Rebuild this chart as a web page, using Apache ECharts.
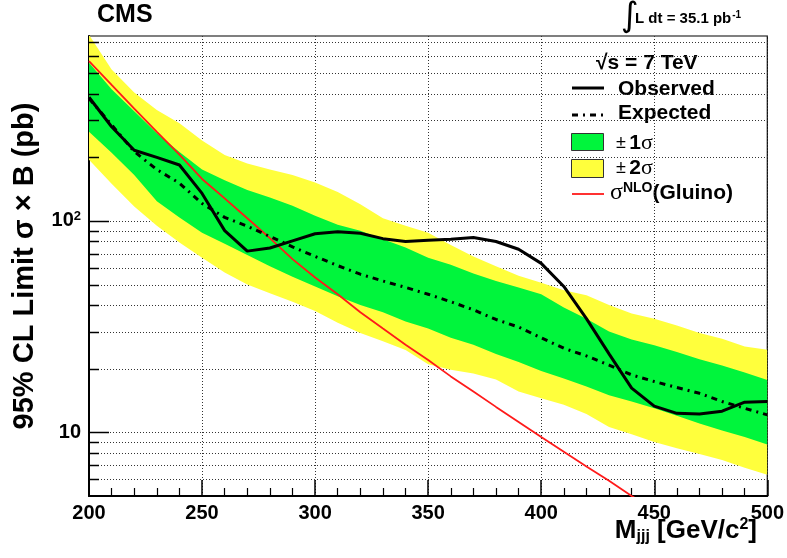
<!DOCTYPE html>
<html><head><meta charset="utf-8">
<script src="https://cdn.jsdelivr.net/npm/echarts@6/dist/echarts.min.js"></script>
<style>html,body{margin:0;padding:0;background:#fff}#c{width:787px;height:558px}</style>
</head><body><div id="c"></div>
<script>
// ---- data ----
const masses = [200,210,220,230,240,250,260,270,280,290,300,310,320,330,340,350,360,370,380,390,400,410,420,430,440,450,460,470,480,490,500];
const observed = [385,279,216,200,184,135,90,72,74.5,80.5,87,89,87.5,82.5,80,81,82,83.5,80,73.5,63,49,34.5,23.5,16.2,13.3,12.3,12.2,12.6,13.9,14];
const expected = [380,285,213,175,151,121,104,94.5,84.5,75.5,68,61.5,56,52,48.5,45,41.5,38,34.2,31.5,28,25,23,20.8,18.7,17.4,16.3,15.3,14,13,12.1];
const band1Up = [560,420,330,260,212,175,156,140,129,118,106,96,90,82,75,67,62,56.5,52,48.5,45,39,34.5,30,27.5,25.8,24,22.2,20.7,19.2,17.7];
const band1Down = [264,210,165,124,104,88,78,69,61,54.5,49,44,40,37,33.5,31,28,26,23.5,21.5,19.5,18,16.5,15,14,13,12,11,10.2,9.5,8.75];
const band2Up = [760,520,405,335,290,240,205,187,175,165,152,137,120,103,95,88,77,68,61,55,51,47,44.5,40,36.5,34.5,32,29.5,27.7,25.5,24.6];
const band2Down = [195,150,117,95,79,67,57,50,45.5,41.5,37.5,33,29.5,27,24.5,21,19.8,19,17.8,15.6,14.5,13.5,12.2,10.6,9.8,9.0,8.4,7.9,7.4,6.8,6.3];
const gluinoMass = [200,210,220,230,240,250,260,270,280,290,300,310,320,330,340,350,360,370,380,390,400,410,420,430,440,450];
const gluinoXsec = [570,440,340,264,206,158,128,103,83,66,54,45,37,31,26,22,18.4,15.6,13.2,11.2,9.5,8.1,6.9,5.9,5.0,4.3];
const xMin = 200, xMax = 500, xStep = 50;
const yMin = 5, yMax = 750;
const yGridValues = [6,7,8,9,10,20,30,40,50,60,70,80,90,100,200,300,400,500,600,700];
const yMajorValues = [10,100];

const FONT = '"Liberation Sans", Arial, Helvetica, sans-serif';
const GREEN = '#00f53c', YELLOW = '#ffff3c';

function pairs(xs, ys){ return xs.map((x,i)=>[x, ys[i]]); }

function clipGroup(params, children){
  const c = params.coordSys;
  return {type:'group', children, clipPath:{type:'rect', shape:{x:c.x, y:c.y, width:c.width, height:c.height}}};
}

function bandSeries(up, down, color, z){
  return {
    type:'custom', z, silent:true, data:[[masses[0], up[0]]],
    renderItem(params, api){
      const pts = [];
      for (let i=0;i<masses.length;i++) pts.push(api.coord([masses[i], up[i]]));
      for (let i=masses.length-1;i>=0;i--) pts.push(api.coord([masses[i], down[i]]));
      return clipGroup(params, [{type:'polygon', shape:{points:pts}, style:{fill:color, stroke:null}}]);
    }
  };
}

const gridSeries = {
  type:'custom', z:1, silent:true, data:[[xMin, 10]],
  renderItem(params, api){
    const children = yGridValues.map(v=>{
      const a = api.coord([xMin, v]), b = api.coord([xMax, v]);
      return {type:'line', shape:{x1:a[0], y1:Math.round(a[1])+0.5, x2:b[0], y2:Math.round(b[1])+0.5},
        style:{stroke:'#333', lineWidth:1, lineDash:[1,2]}};
    });
    return {type:'group', children};
  }
};

const tickSeries = {
  type:'custom', z:10, silent:true, data:[[xMin, 10]],
  renderItem(params, api){
    const children = yGridValues.map(v=>{
      const a = api.coord([xMin, v]);
      const len = yMajorValues.includes(v) ? 20 : 10;
      const y = Math.round(a[1])+0.5;
      return {type:'line', shape:{x1:a[0], y1:y, x2:a[0]+len, y2:y}, style:{stroke:'#000', lineWidth:1.5}};
    });
    return {type:'group', children};
  }
};

const chart = echarts.init(document.getElementById('c'), null, {renderer:'canvas'});
chart.setOption({
  backgroundColor:'#fff',
  animation:false,
  grid:{left:89, right:18, top:36, bottom:62, show:true, borderColor:'#000', borderWidth:1.2, backgroundColor:'transparent'},
  xAxis:{
    type:'value', min:xMin, max:xMax, interval:xStep,
    axisLine:{show:true, onZero:false, lineStyle:{color:'#000', width:2}},
    axisTick:{show:true, inside:true, length:16, lineStyle:{color:'#000', width:1.5}},
    minorTick:{show:true, splitNumber:5, length:8, lineStyle:{color:'#000', width:1.2}},
    splitLine:{show:true, lineStyle:{color:'#333', width:1, type:[1,2]}},
    axisLabel:{color:'#000', fontSize:20, fontWeight:'bold', fontFamily:FONT, margin:7}
  },
  yAxis:{
    type:'log', logBase:10, min:yMin, max:yMax,
    axisLine:{show:true, lineStyle:{color:'#000', width:2}},
    axisTick:{show:false},
    splitLine:{show:false},
    axisLabel:{
      color:'#000', margin:8, showMinLabel:false, showMaxLabel:false,
      formatter:(v)=>{
        const e = Math.log10(v);
        if (Math.abs(e-Math.round(e))>1e-6) return '';
        const r = Math.round(e);
        if (r===1) return '{a|10}';
        if (r===2) return '{a|10}{s|2}';
        return '';
      },
      rich:{a:{fontSize:20, fontWeight:'bold', fontFamily:FONT, color:'#000'},
            s:{fontSize:13, fontWeight:'bold', fontFamily:FONT, color:'#000', verticalAlign:'top', padding:[0,0,10,0]}}
    }
  },
  series:[
    gridSeries,
    bandSeries(band2Up, band2Down, YELLOW, 2),
    bandSeries(band1Up, band1Down, GREEN, 3),
    {type:'line', z:4, data:pairs(gluinoMass, gluinoXsec), symbol:'none', smooth:false, clip:true,
      lineStyle:{color:'#ff1a1a', width:1.8}},
    {type:'line', z:5, data:pairs(masses, expected), symbol:'none', clip:true,
      lineStyle:{color:'#000', width:3, type:[6,5,2,5]}},
    {type:'line', z:6, data:pairs(masses, observed), symbol:'none', clip:true,
      lineStyle:{color:'#000', width:3}},
    tickSeries
  ],
  graphic:[
    {type:'text', x:97, y:15, style:{text:'CMS', font:'bold 25px '+FONT, fill:'#000', verticalAlign:'middle'}},
    {type:'text', x:621, y:17, style:{text:'∫', font:'34px "DejaVu Sans"', fill:'#000', verticalAlign:'middle'}},
    {type:'text', x:635, y:19, style:{text:'{t|L dt = 35.1 pb}{s|-1}', fill:'#000', verticalAlign:'middle',
      rich:{t:{font:'bold 15px '+FONT, fill:'#000'}, s:{font:'bold 10px '+FONT, fill:'#000', verticalAlign:'top', padding:[0,0,8,1]}}}},
    // legend
    {type:'text', x:596, y:63, style:{text:'√s = 7 TeV', font:'bold 21px '+FONT, fill:'#000', verticalAlign:'middle'}},
    {type:'line', shape:{x1:572, y1:88, x2:604, y2:88}, style:{stroke:'#000', lineWidth:3}},
    {type:'text', x:618, y:89, style:{text:'Observed', font:'bold 21px '+FONT, fill:'#000', verticalAlign:'middle'}},
    {type:'line', shape:{x1:572, y1:115, x2:604, y2:115}, style:{stroke:'#000', lineWidth:3, lineDash:[6,5,2,5]}},
    {type:'text', x:618, y:113, style:{text:'Expected', font:'bold 21px '+FONT, fill:'#000', verticalAlign:'middle'}},
    {type:'rect', shape:{x:571.5, y:133.5, width:32, height:17}, style:{fill:GREEN, stroke:'#333', lineWidth:1}},
    {type:'text', x:616, y:143, style:{text:'{p|±} {n|1}{g|σ}', verticalAlign:'middle',
      rich:{p:{font:'18px '+FONT, fill:'#000'}, n:{font:'bold 21px '+FONT, fill:'#000'}, g:{font:'22px "Liberation Serif"', fill:'#000'}}}},
    {type:'rect', shape:{x:571.5, y:159.5, width:32, height:18}, style:{fill:YELLOW, stroke:'#333', lineWidth:1}},
    {type:'text', x:616, y:168, style:{text:'{p|±} {n|2}{g|σ}', verticalAlign:'middle',
      rich:{p:{font:'18px '+FONT, fill:'#000'}, n:{font:'bold 21px '+FONT, fill:'#000'}, g:{font:'22px "Liberation Serif"', fill:'#000'}}}},
    {type:'line', shape:{x1:572, y1:194, x2:604, y2:194}, style:{stroke:'#ff1a1a', lineWidth:1.8}},
    {type:'text', x:610, y:193, style:{text:'{g|σ}{s|NLO}{n|(Gluino)}', verticalAlign:'middle',
      rich:{g:{font:'24px "Liberation Serif"', fill:'#000'}, s:{font:'bold 14px '+FONT, fill:'#000', verticalAlign:'top', padding:[0,0,10,0]}, n:{font:'bold 21px '+FONT, fill:'#000'}}}},
    // axis titles
    {type:'text', x:25, y:266, rotation:Math.PI/2, style:{text:'95% CL Limit σ × B (pb)', font:'bold 29px '+FONT, fill:'#000', align:'center', verticalAlign:'middle'}},
    {type:'text', x:757, y:531, style:{text:'{m|M}{b|jjj}{m| [GeV/c}{s|2}{m|]}', align:'right', verticalAlign:'middle',
      rich:{m:{font:'bold 26px '+FONT, fill:'#000'}, b:{font:'bold 16px '+FONT, fill:'#000', verticalAlign:'bottom', padding:[12,0,0,0]}, s:{font:'bold 16px '+FONT, fill:'#000', verticalAlign:'top', padding:[0,0,12,0]}}}}
  ]
});
</script></body></html>
